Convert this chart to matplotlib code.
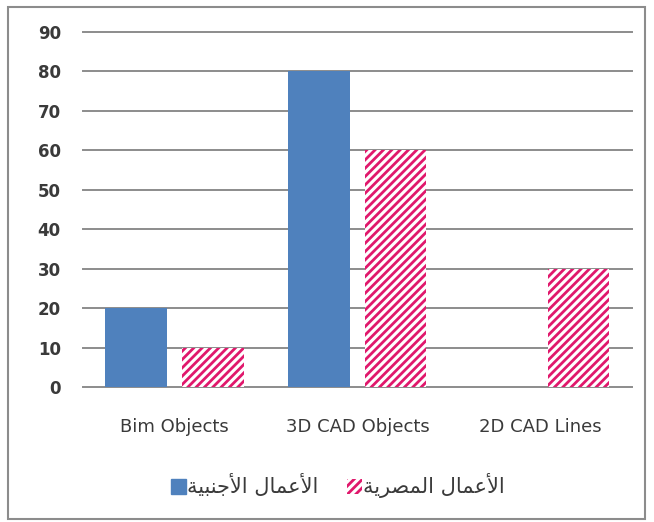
import matplotlib
matplotlib.use("Agg")
import matplotlib.pyplot as plt
import numpy as np
from matplotlib.patches import Rectangle, Patch

# values per category, two series
categories = ["Bim Objects", "3D CAD Objects", "2D CAD Lines"]
foreign_works = [20, 80, 0]
egyptian_works = [10, 60, 30]
y_ticks = [0, 10, 20, 30, 40, 50, 60, 70, 80, 90]

# Arabic series names, written with presentation forms in visual (left-to-right) order
# since matplotlib does no shaping or bidi
label_foreign = "\ufe94\ufef4\ufe92\ufee8\ufe9f\ufef7\ufe8d \ufedd\ufe8e\ufee4\ufecb\ufef7\ufe8d"   # الأعمال الأجنبية
label_egyptian = "\ufe94\ufef3\ufeae\ufebc\ufee4\ufedf\ufe8d \ufedd\ufe8e\ufee4\ufecb\ufef7\ufe8d"  # الأعمال المصرية

BLUE = "#4f81bd"
PINK = "#e0186c"
GRID = "#8c8c8c"
TEXT = "#3a3a3a"

plt.rcParams["hatch.linewidth"] = 2.0
plt.rcParams["hatch.color"] = PINK

fig = plt.figure(figsize=(6.54, 5.22), dpi=100)
ax = fig.add_axes([0.127, 0.2586, 0.839, 0.6801])

x = np.arange(len(categories))
w = 0.335
ax.bar(x - 0.21, foreign_works, w, color=BLUE, zorder=3)
ax.bar(x + 0.21, egyptian_works, w, color="white", edgecolor=PINK, hatch="////",
       linewidth=0, zorder=3)

ax.set_xlim(-0.5, len(categories) - 0.5)
ax.set_ylim(0, 90)
ax.set_yticks(y_ticks)
ax.yaxis.grid(True, color=GRID, linewidth=1.4, zorder=0)
for gl in ax.get_ygridlines():
    gl.set_clip_on(False)
ax.set_axisbelow(True)
for s in ax.spines.values():
    s.set_visible(False)
ax.tick_params(axis="y", length=0, pad=16, labelsize=12, labelcolor=TEXT)
for t in ax.get_yticklabels():
    t.set_fontweight("bold")
ax.set_xticks(x)
ax.set_xticklabels(categories, fontsize=13, color=TEXT)
ax.tick_params(axis="x", length=0, pad=22)

handles = [Patch(facecolor=BLUE, edgecolor=BLUE),
           Patch(facecolor="white", edgecolor=PINK, hatch="////", linewidth=0)]
leg = fig.legend(handles, [label_foreign, label_egyptian], ncol=2,
                 loc="center", bbox_to_anchor=(338 / 654, 1 - 486 / 522),
                 frameon=False, fontsize=15, handlelength=0.7, handleheight=0.7,
                 handletextpad=0.05, columnspacing=1.4)
for t in leg.get_texts():
    t.set_color(TEXT)

# outer chart frame
fig.patches.append(Rectangle((8 / 654, 3 / 522), 637 / 654, 512 / 522,
                             transform=fig.transFigure, fill=False,
                             edgecolor="#8c8c8c", linewidth=1.5))

fig.savefig("out.png", dpi=100)
